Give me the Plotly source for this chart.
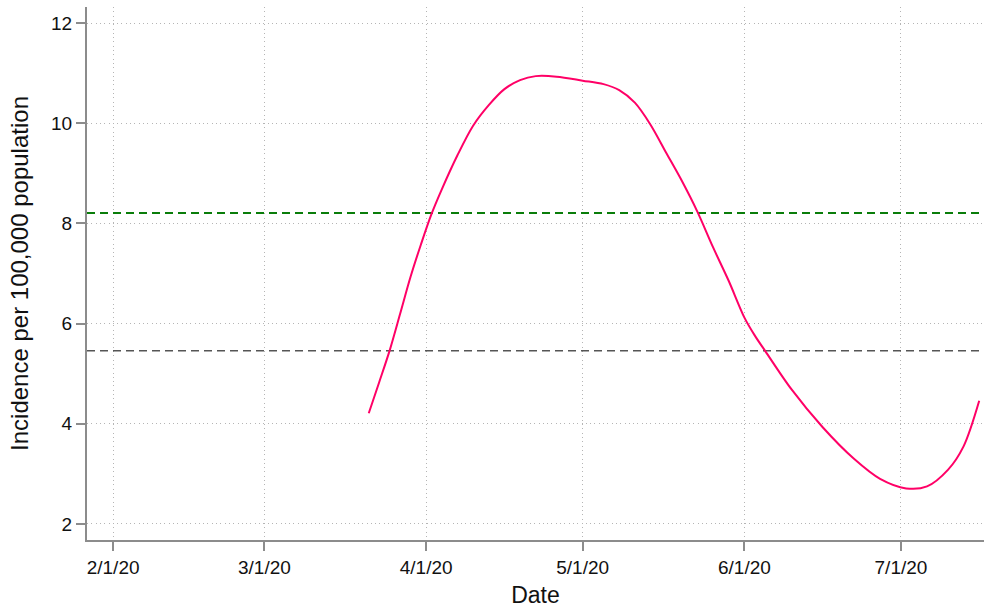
import plotly.graph_objects as go

dates = ["2020-03-21", "2020-03-23", "2020-03-25", "2020-03-27", "2020-03-29",
         "2020-03-31", "2020-04-02", "2020-04-04", "2020-04-07", "2020-04-10",
         "2020-04-13", "2020-04-16", "2020-04-19", "2020-04-22", "2020-04-26",
         "2020-05-01", "2020-05-05", "2020-05-08", "2020-05-11", "2020-05-14",
         "2020-05-17", "2020-05-20", "2020-05-23", "2020-05-26", "2020-05-29",
         "2020-06-01", "2020-06-03", "2020-06-05", "2020-06-10", "2020-06-16",
         "2020-06-22", "2020-06-27", "2020-07-02", "2020-07-06", "2020-07-10",
         "2020-07-13", "2020-07-16"]
incidence = [4.21, 4.83, 5.46, 6.19, 6.93,
             7.58, 8.18, 8.68, 9.36, 9.95,
             10.36, 10.68, 10.86, 10.94, 10.93,
             10.85, 10.78, 10.66, 10.41, 9.97,
             9.41, 8.85, 8.23, 7.52, 6.85,
             6.12, 5.76, 5.45, 4.69, 3.93,
             3.3, 2.9, 2.71, 2.75, 3.08,
             3.55, 4.46]

green_level = 8.21
gray_level = 5.46

tick_vals = ["2020-02-01", "2020-03-01", "2020-04-01", "2020-05-01", "2020-06-01", "2020-07-01"]
tick_text = ["2/1/20", "3/1/20", "4/1/20", "5/1/20", "6/1/20", "7/1/20"]
y_ticks = [2, 4, 6, 8, 10, 12]

x_range = ["2020-01-27", "2020-07-16 22:00"]

fig = go.Figure()
fig.add_trace(go.Scatter(x=x_range, y=[green_level, green_level], mode="lines",
                         line=dict(color="#0a7d0a", width=2, dash="8px,5px"),
                         showlegend=False, hoverinfo="skip"))
fig.add_trace(go.Scatter(x=x_range, y=[gray_level, gray_level], mode="lines",
                         line=dict(color="#555555", width=1.5, dash="8px,5px"),
                         showlegend=False, hoverinfo="skip"))
fig.add_trace(go.Scatter(x=dates, y=incidence, mode="lines",
                         line=dict(color="#ff0066", width=2, shape="spline", smoothing=0.9),
                         showlegend=False))

axis_common = dict(
    showline=True, linecolor="#8c8c8c", linewidth=2,
    ticks="outside", ticklen=9, tickcolor="#8c8c8c", tickwidth=1.5,
    showgrid=True, gridcolor="#b5b5b5", griddash="1px,3.3px", gridwidth=1,
    zeroline=False, automargin=False,
    tickfont=dict(family="Liberation Sans, Arial", size=19, color="#111111"),
)

fig.update_layout(
    width=984, height=608,
    margin=dict(l=87, r=0, t=7, b=68),
    paper_bgcolor="white", plot_bgcolor="white",
    font=dict(family="Liberation Sans, Arial", color="#111111"),
    xaxis=dict(range=x_range, type="date", tickvals=tick_vals, ticktext=tick_text,
               title=dict(text="Date", font=dict(size=23), standoff=14),
               **axis_common),
    yaxis=dict(range=[1.68, 12.32], tickvals=y_ticks,
               title=dict(text="Incidence per 100,000 population", font=dict(size=24), standoff=16),
               **axis_common),
)

fig.write_html("out.html", config={"displayModeBar": False},
               post_script="document.body.style.margin='0';document.body.style.overflow='hidden';")
